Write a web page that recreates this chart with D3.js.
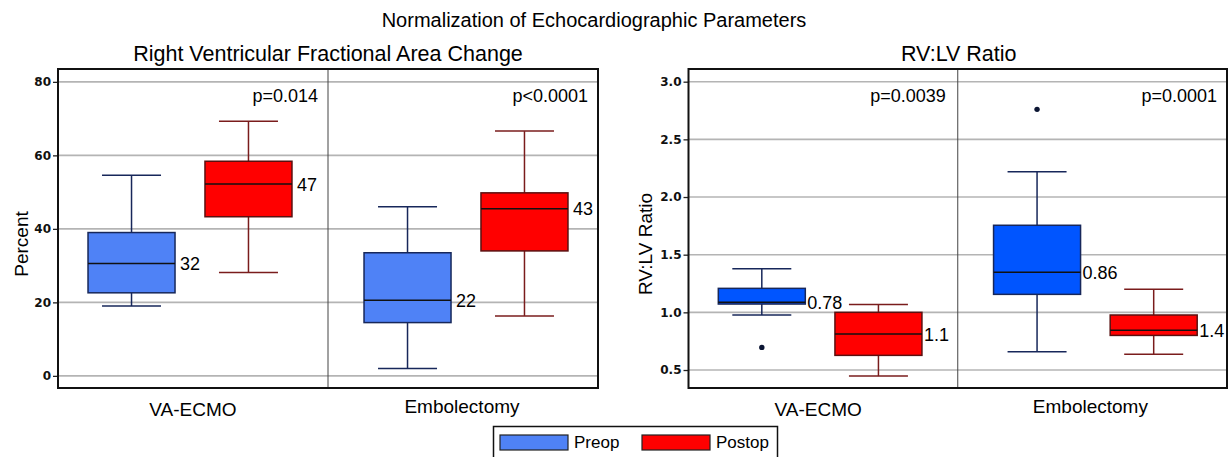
<!DOCTYPE html>
<html>
<head>
<meta charset="utf-8">
<script src="https://cdn.jsdelivr.net/npm/d3@7"></script>
<style>
  body { margin: 0; background: #fff; }
  svg { display: block; font-family: "Liberation Sans", Arial, sans-serif; }
  .tick text { font-family: "DejaVu Sans", sans-serif; font-weight: bold; font-size: 12px; fill: #111; }
</style>
</head>
<body>
<div id="chart"></div>
<script>
// categories and series
var groups = ["VA-ECMO", "Embolectomy"];
var series = ["Preop", "Postop"];

// five-number summaries [low whisker, q1, median, q3, high whisker]
// order: VA-ECMO Preop, VA-ECMO Postop, Embolectomy Preop, Embolectomy Postop
var facBoxes = [
  [19.0, 22.6, 30.6, 39.0, 54.6],
  [28.1, 43.3, 52.2, 58.4, 69.3],
  [2.0, 14.5, 20.6, 33.5, 46.0],
  [16.3, 34.0, 45.5, 49.8, 66.6]
];
var facOutliers = [[], [], [], []];
var facLabels = ["32", "47", "22", "43"];
var facPValues = ["p=0.014", "p<0.0001"];
var facTicks = [0, 20, 40, 60, 80];

var ratioBoxes = [
  [0.977, 1.072, 1.087, 1.208, 1.378],
  [0.447, 0.627, 0.812, 1.0, 1.069],
  [0.658, 1.156, 1.347, 1.755, 2.22],
  [0.636, 0.80, 0.844, 0.977, 1.20]
];
var ratioOutliers = [[0.696], [], [2.76], []];
var ratioLabels = ["0.78", "1.1", "0.86", "1.4"];
var ratioPValues = ["p=0.0039", "p=0.0001"];
var ratioTicks = [0.5, 1.0, 1.5, 2.0, 2.5, 3.0];

var W = 1228, H = 457;
var plotTop = 69, plotBottom = 388;

var svg = d3.select("#chart").append("svg")
  .attr("width", W)
  .attr("height", H);

svg.append("text")
  .attr("x", 594).attr("y", 27)
  .attr("text-anchor", "middle")
  .style("font-size", "20px")
  .text("Normalization of Echocardiographic Parameters");

function drawPanel(opt) {
  var g = svg.append("g");

  var y = d3.scaleLinear().domain(opt.domain).range([plotBottom, plotTop]);
  var x = d3.scaleBand().domain(groups).range([opt.left - 6, opt.right + 6]);
  var xs = d3.scalePoint().domain(series).range([0, x.bandwidth()]).padding(0.68);
  var boxW = 87, capW = 59;

  // title
  g.append("text")
    .attr("x", (opt.left + opt.right) / 2 + opt.titleDx)
    .attr("y", 61)
    .attr("text-anchor", "middle")
    .style("font-size", "21.5px")
    .text(opt.title);

  // gridlines
  g.selectAll(".grid").data(opt.ticks).enter().append("line")
    .attr("x1", opt.left).attr("x2", opt.right)
    .attr("y1", function(d) { return y(d); })
    .attr("y2", function(d) { return y(d); })
    .style("stroke", "#b4b4b4")
    .style("stroke-width", 1.6);

  // divider between groups
  g.append("line")
    .attr("x1", x(groups[1])).attr("x2", x(groups[1]))
    .attr("y1", plotTop).attr("y2", plotBottom)
    .style("stroke", "#444")
    .style("stroke-width", 1);

  // y axis
  var yaxis = d3.axisLeft(y).tickValues(opt.ticks).tickFormat(opt.fmt).tickSize(5).tickPadding(2);
  var ax = g.append("g")
    .attr("transform", "translate(" + opt.left + ",0)")
    .call(yaxis);
  ax.select(".domain").remove();
  ax.selectAll(".tick line").style("stroke", "#222").style("stroke-width", 1.3);

  g.append("text")
    .attr("transform", "translate(" + opt.ylabX + ",244) rotate(-90)")
    .attr("text-anchor", "middle")
    .style("font-size", "19px")
    .text(opt.ylabel);

  // boxes
  groups.forEach(function(grp, gi) {
    series.forEach(function(s, si) {
      var k = gi * 2 + si;
      var b = opt.boxes[k];
      var cx = x(grp) + xs(s);
      var wcol = si === 0 ? "#17275a" : "#7a1c1c";
      var fill = si === 0 ? opt.preColor : "#ff0000";
      var edge = si === 0 ? "#17275a" : "#5a1010";

      // whiskers
      g.append("line").attr("x1", cx).attr("x2", cx)
        .attr("y1", y(b[4])).attr("y2", y(b[3]))
        .style("stroke", wcol).style("stroke-width", 1.5);
      g.append("line").attr("x1", cx).attr("x2", cx)
        .attr("y1", y(b[1])).attr("y2", y(b[0]))
        .style("stroke", wcol).style("stroke-width", 1.5);
      [b[0], b[4]].forEach(function(v) {
        g.append("line")
          .attr("x1", cx - capW / 2).attr("x2", cx + capW / 2)
          .attr("y1", y(v)).attr("y2", y(v))
          .style("stroke", wcol).style("stroke-width", 1.5);
      });

      g.append("rect")
        .attr("x", cx - boxW / 2).attr("width", boxW)
        .attr("y", y(b[3])).attr("height", y(b[1]) - y(b[3]))
        .style("fill", fill)
        .style("stroke", edge)
        .style("stroke-width", 1.5);

      g.append("line")
        .attr("x1", cx - boxW / 2).attr("x2", cx + boxW / 2)
        .attr("y1", y(b[2])).attr("y2", y(b[2]))
        .style("stroke", "#111").style("stroke-width", 1.5);

      opt.outliers[k].forEach(function(v) {
        g.append("circle")
          .attr("cx", cx).attr("cy", y(v)).attr("r", 2.7)
          .style("fill", "#0b1533");
      });

      g.append("text")
        .attr("x", cx + boxW / 2 + opt.labelGap)
        .attr("y", y(b[2]))
        .attr("dy", "0.36em")
        .style("font-size", "18px")
        .text(opt.labels[k]);
    });

    // p value
    g.append("text")
      .attr("x", x(grp) + x.bandwidth() - 6 - opt.pPad[gi])
      .attr("y", 102)
      .attr("text-anchor", "end")
      .style("font-size", "18px")
      .text(opt.pvals[gi]);

    // category label
    g.append("text")
      .attr("x", x(grp) + x.bandwidth() / 2 + opt.catDx[gi])
      .attr("y", gi === 0 ? 416 : 413)
      .attr("text-anchor", "middle")
      .style("font-size", "19px")
      .text(grp);
  });

  // frame
  g.append("rect")
    .attr("x", opt.left).attr("y", plotTop)
    .attr("width", opt.right - opt.left).attr("height", plotBottom - plotTop)
    .style("fill", "none")
    .style("stroke", "#111")
    .style("stroke-width", 2);
}

drawPanel({
  left: 58, right: 598,
  domain: [-3.3, 83.5], ticks: facTicks, fmt: d3.format("d"),
  boxes: facBoxes, outliers: facOutliers, labels: facLabels, pvals: facPValues,
  title: "Right Ventricular Fractional Area Change", titleDx: 0,
  ylabel: "Percent", ylabX: 28, labelGap: 5,
  preColor: "#4f82f6", pPad: [4, 10], catDx: [3, -4]
});

drawPanel({
  left: 688.5, right: 1227,
  domain: [0.344, 3.11], ticks: ratioTicks, fmt: d3.format(".1f"),
  boxes: ratioBoxes, outliers: ratioOutliers, labels: ratioLabels, pvals: ratioPValues,
  title: "RV:LV Ratio", titleDx: 1,
  ylabel: "RV:LV Ratio", ylabX: 652, labelGap: 2,
  preColor: "#0055ff", pPad: [6, 10], catDx: [-2, -5]
});

// legend
var legend = svg.append("g");
legend.append("rect")
  .attr("x", 493.5).attr("y", 426.5)
  .attr("width", 284).attr("height", 40)
  .style("fill", "#fff").style("stroke", "#111").style("stroke-width", 1.5);

var legendX = d3.scaleOrdinal().domain(series).range([500, 642]);
var legendFill = d3.scaleOrdinal().domain(series).range(["#4f82f6", "#ff0000"]);
series.forEach(function(s) {
  legend.append("rect")
    .attr("x", legendX(s)).attr("y", 435)
    .attr("width", 68).attr("height", 15)
    .style("fill", legendFill(s))
    .style("stroke", "#222").style("stroke-width", 1.2);
  legend.append("text")
    .attr("x", legendX(s) + 74).attr("y", 448)
    .style("font-size", "17px")
    .text(s);
});
</script>
</body>
</html>
